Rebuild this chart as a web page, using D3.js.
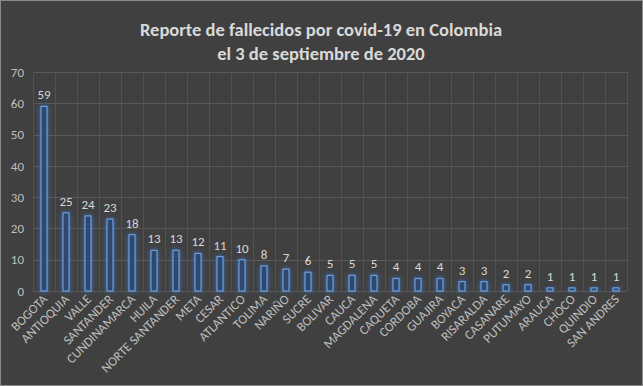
<!DOCTYPE html>
<html>
<head>
<meta charset="utf-8">
<script src="https://cdn.jsdelivr.net/npm/d3@7.9.0/dist/d3.min.js"></script>
<style>
  html, body { margin: 0; padding: 0; background: #404040; }
  svg { display: block; }
</style>
</head>
<body>
<svg id="chart" width="643" height="386"></svg>
<script>
// departments and deaths reported
const departments = ["BOGOTA", "ANTIOQUIA", "VALLE", "SANTANDER", "CUNDINAMARCA", "HUILA",
  "NORTE SANTANDER", "META", "CESAR", "ATLANTICO", "TOLIMA", "NARIÑO", "SUCRE", "BOLIVAR",
  "CAUCA", "MAGDALENA", "CAQUETA", "CORDOBA", "GUAJIRA", "BOYACA", "RISARALDA", "CASANARE",
  "PUTUMAYO", "ARAUCA", "CHOCO", "QUINDIO", "SAN ANDRES"];
const deaths = [59, 25, 24, 23, 18, 13, 13, 12, 11, 10, 8, 7, 6, 5, 5, 5, 4, 4, 4, 3, 3, 2, 2, 1, 1, 1, 1];
const yTicks = [0, 10, 20, 30, 40, 50, 60, 70];
const titleLines = ["Reporte de fallecidos por covid-19 en Colombia", "el 3 de septiembre de 2020"];

const data = departments.map((d, i) => ({ label: d, value: deaths[i] }));

const width = 643, height = 386;
const margin = { top: 72, right: 16, bottom: 95, left: 33 };
const font = "Carlito, 'Liberation Sans Narrow', 'Open Sans', sans-serif";

const svg = d3.select("#chart");

// background + thin light border
svg.append("rect").attr("x", 0.5).attr("y", 0.5).attr("width", width - 1).attr("height", height - 1)
  .attr("fill", "#404040").attr("stroke", "#8a8a8a");

// glow filter for bars
const defs = svg.append("defs");
const glow = defs.append("filter").attr("id", "glow")
  .attr("x", "-200%").attr("y", "-50%").attr("width", "500%").attr("height", "200%");
glow.append("feGaussianBlur").attr("in", "SourceAlpha").attr("stdDeviation", 2.8).attr("result", "blur");
glow.append("feFlood").attr("flood-color", "#3d7ad0").attr("flood-opacity", 0.85);
glow.append("feComposite").attr("in2", "blur").attr("operator", "in").attr("result", "glowColor");
const merge = glow.append("feMerge");
merge.append("feMergeNode").attr("in", "glowColor");
merge.append("feMergeNode").attr("in", "SourceGraphic");

const x = d3.scaleBand()
  .domain(departments)
  .range([margin.left, width - margin.right])
  .padding(0);

const y = d3.scaleLinear()
  .domain([0, 70])
  .range([height - margin.bottom, margin.top]);

// horizontal gridlines
svg.append("g").selectAll("line").data(yTicks).join("line")
  .attr("x1", margin.left).attr("x2", width - margin.right)
  .attr("y1", d => Math.round(y(d)) + 0.5).attr("y2", d => Math.round(y(d)) + 0.5)
  .attr("stroke", "#595959").attr("stroke-width", 1);

// vertical gridlines between categories
const vLines = departments.map(d => x(d)).concat([x.range()[1]]);
svg.append("g").selectAll("line").data(vLines).join("line")
  .attr("x1", d => Math.round(d) + 0.5).attr("x2", d => Math.round(d) + 0.5)
  .attr("y1", y(70)).attr("y2", y(0))
  .attr("stroke", "#525252").attr("stroke-width", 1);

// y axis labels
const yAxis = d3.axisLeft(y).tickValues(yTicks).tickSize(0).tickPadding(9);
const gy = svg.append("g").attr("transform", `translate(${margin.left},0)`).call(yAxis);
gy.select(".domain").remove();
gy.selectAll("text").attr("fill", "#bfbfbf").style("font-family", font).style("font-size", "13px");

// bars
const barW = 6;
svg.append("g").selectAll("rect").data(data).join("rect")
  .attr("x", d => x(d.label) + x.bandwidth() / 2 - barW / 2)
  .attr("y", d => y(d.value))
  .attr("width", barW)
  .attr("height", d => y(0) - y(d.value))
  .attr("fill", "#2f4a6b")
  .attr("stroke", "#6a9ee0")
  .attr("stroke-width", 1.2)
  .attr("filter", "url(#glow)");

// value labels
svg.append("g").selectAll("text").data(data).join("text")
  .attr("x", d => x(d.label) + x.bandwidth() / 2)
  .attr("y", d => y(d.value) - 7)
  .attr("text-anchor", "middle")
  .attr("fill", "#d9d9d9")
  .style("font-family", font).style("font-size", "13px")
  .text(d => d.value);

// x axis labels, rotated
const xAxis = d3.axisBottom(x).tickSize(0).tickPadding(0);
const gx = svg.append("g").attr("transform", `translate(0,${y(0)})`).call(xAxis);
gx.select(".domain").remove();
gx.selectAll("text")
  .attr("fill", "#bfbfbf")
  .style("font-family", font).style("font-size", "13px")
  .attr("text-anchor", "end")
  .attr("dy", null)
  .attr("transform", "translate(4,9) rotate(-45)");

// title
svg.append("g").selectAll("text").data(titleLines).join("text")
  .attr("x", 321).attr("y", (d, i) => 36 + i * 24)
  .attr("text-anchor", "middle")
  .attr("fill", "#d9d9d9")
  .style("font-family", font).style("font-size", "18.5px").style("font-weight", "bold")
  .text(d => d);
</script>
</body>
</html>
